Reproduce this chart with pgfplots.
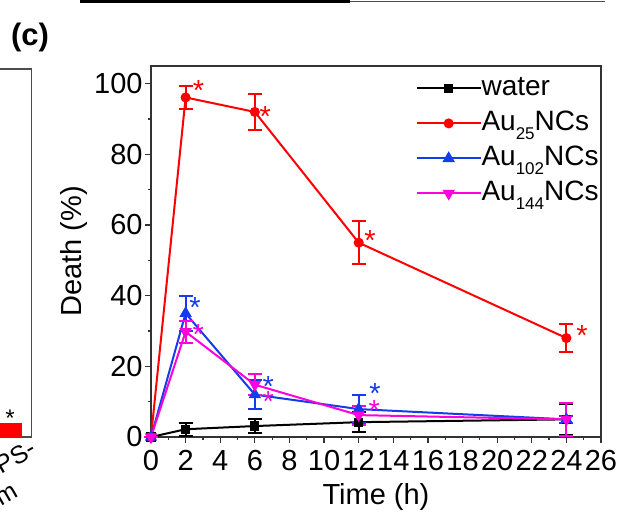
\documentclass[border=0pt]{standalone}
\usepackage{pgfplots}
\pgfplotsset{compat=1.18}
\usepackage{fontspec}
\setmainfont{Liberation Sans}

\definecolor{cred}{RGB}{255,0,0}
\definecolor{cblue}{RGB}{20,60,235}
\definecolor{cmag}{RGB}{255,0,220}
\newcommand\sub[1]{\raisebox{-0.32em}{\fontsize{8.5}{9}\selectfont #1}}

\begin{document}
\begin{tikzpicture}
% page = 620x520 px, 1 px = 0.5pt, y measured downward
\path[use as bounding box, clip] (0,0) rectangle (310pt,-260pt);

\begin{scope}[x=0.5pt, y=-0.5pt]
  % fragments of neighbouring panels
  \draw[line width=1.5pt] (80,1) -- (350,1);
  \draw[line width=0.5pt, black!70] (350,1) -- (605,1);
  \draw[line width=0.75pt, black!70] (0,69) -- (31.5,69) -- (31.5,437) -- (-5,437);
  \fill[cred] (0,422.5) rectangle (22,437);
  \node[font=\fontsize{12}{14}\selectfont, inner sep=0pt, anchor=north] at (10,410) {*};
  \node[font=\fontsize{12.5}{14}\selectfont, rotate=30, anchor=east, inner sep=0pt] at (34,446) {PS-};
  \node[font=\fontsize{12.5}{14}\selectfont, rotate=30, anchor=east, inner sep=0pt] at (17,490) {m};
  \node[font=\fontsize{15.5}{18}\selectfont\bfseries] at (30,37) {(c)};
\end{scope}

\begin{axis}[
    at={(75.5pt,-218.5pt)}, anchor=south west,
    width=225pt, height=185.5pt, scale only axis,
    xmin=0, xmax=26, ymin=0, ymax=105,
    xtick={0,2,...,26}, ytick={0,20,...,100},
    minor x tick num=1, minor y tick num=1,
    tick pos=left, tick align=outside,
    major tick length=3pt, minor tick length=1.6pt,
    every tick/.style={black!80, line width=0.6pt},
    axis line style={black!80, line width=0.75pt},
    /pgf/number format/assume math mode=true,
    ticklabel style={font=\fontsize{14.5}{16}\selectfont},
    xticklabel style={inner sep=3.5pt},
    yticklabel style={inner sep=1pt},
    label style={font=\fontsize{14.5}{16}\selectfont},
    xlabel={Time (h)}, ylabel={Death (\%)},
    xlabel style={yshift=1pt},
    ylabel style={yshift=-1pt},
    clip=false,
    legend style={at={(1,1)}, anchor=north east, draw=none, fill=none,
        font=\fontsize{14}{16}\selectfont, inner sep=0pt, xshift=-1pt, yshift=-4.5pt,
        row sep=4.5pt,
        nodes={inner sep=0pt, text height=10pt, text depth=3pt},
        /tikz/every even column/.append style={column sep=4pt}},
    legend cell align=left,
    legend image code/.code={%
        \draw[mark repeat=2, mark phase=2, #1] plot coordinates {(0cm,0cm) (0.56cm,0cm) (1.12cm,0cm)};},
    every axis plot/.append style={line width=1pt, mark size=2pt,
        error bars/error bar style={line width=1pt},
        error bars/error mark options={rotate=90, mark size=3.5pt, line width=1pt}},
]
\addplot[black, mark=square*, mark size=1.8pt, error bars/.cd, y dir=both, y explicit]
  coordinates {(0,0) +- (0,0) (2,2.2) +- (0,1.8) (6,3.1) +- (0,2.0) (12,4.2) +- (0,2.8) (24,5.0) +- (0,4.3)};
\addplot[cred, mark=*, error bars/.cd, y dir=both, y explicit]
  coordinates {(0,0) +- (0,0) (2,96.1) +- (0,3.2) (6,92.0) +- (0,5.0) (12,55.0) +- (0,6.0) (24,28.0) +- (0,4.0)};
\addplot[cblue, mark=triangle*, mark size=2.6pt, error bars/.cd, y dir=both, y explicit]
  coordinates {(0,0) +- (0,0) (2,35.0) +- (0,5.0) (6,12.0) +- (0,4.0) (12,7.9) +- (0,4.0) (24,5.0) +- (0,1.0)};
\addplot[cmag, mark=triangle*, mark options={rotate=180}, mark size=2.6pt, error bars/.cd, y dir=both, y explicit]
  coordinates {(0,0) +- (0,0) (2,29.8) +- (0,3.1) (6,14.8) +- (0,2.9) (12,6.2) +- (0,2.7) (24,5.0) +- (0,4.7)};
\legend{water, Au\sub{25}NCs, Au\sub{102}NCs, Au\sub{144}NCs}

% significance marks
\begin{scope}[every node/.style={font=\fontsize{14.5}{16}\selectfont, inner sep=0pt, anchor=north}]
\node[text=cred]  at (axis cs:2.74,100.9) {*};
\node[text=cred]  at (axis cs:6.6,93.6) {*};
\node[text=cred]  at (axis cs:12.66,58.6) {*};
\node[text=cred]  at (axis cs:24.9,31.7) {*};
\node[text=cblue] at (axis cs:2.54,39.7) {*};
\node[text=cblue] at (axis cs:6.78,17.1) {*};
\node[text=cblue] at (axis cs:12.95,15.2) {*};
\node[text=cmag]  at (axis cs:2.73,32) {*};
\node[text=cmag]  at (axis cs:6.78,13.1) {*};
\node[text=cmag]  at (axis cs:12.9,10.5) {*};
\end{scope}
\end{axis}
\end{tikzpicture}
\end{document}
